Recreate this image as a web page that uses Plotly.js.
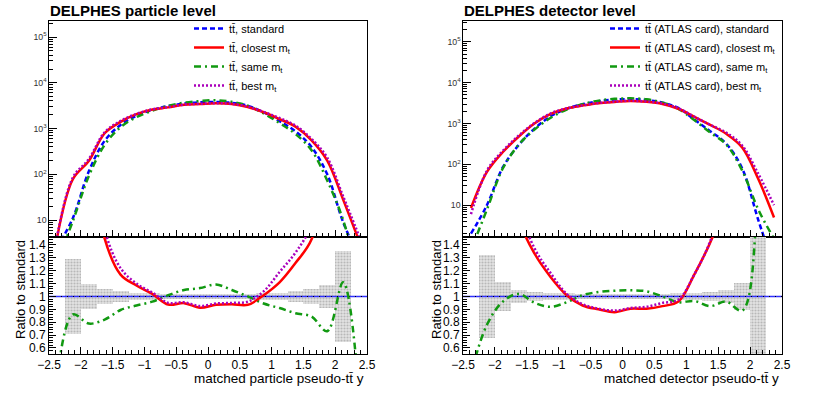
<!DOCTYPE html>
<html>
<head>
<meta charset="utf-8">
<script src="https://cdn.plot.ly/plotly-3.0.1.min.js"></script>
<style>
  html, body { margin: 0; padding: 0; background: #fff; }
  #plot { width: 830px; height: 397px; }
</style>
</head>
<body>
<div id="plot"></div>
<script>
// bin centres of the pseudo-ttbar rapidity histograms (bin width 0.25)
let binCentres = [-2.375, -2.125, -1.875, -1.625, -1.375, -1.125, -0.875, -0.625, -0.375, -0.125,
                  0.125, 0.375, 0.625, 0.875, 1.125, 1.375, 1.625, 1.875, 2.125, 2.375];
// bins that carry a stat. band in the ratio pad
let bandCentres = binCentres.slice(1, 19);
let axisEnds = [-2.5, 2.5];
let ratioOne = [1, 1];

// particle level, events per bin
let partStd     = [2.5, 11, 115, 540, 1200, 1900, 2550, 3100, 3500, 3750, 3800, 3650, 3150, 2250, 1450, 870, 400, 100, 9, 1.5];
let partClosest = [4, 78, 195, 790, 1400, 2060, 2600, 2900, 3320, 3420, 3550, 3430, 2950, 2270, 1610, 1100, 560, 200, 28, 3.5];
let partSame    = [1.2, 9.5, 91, 440, 1075, 1770, 2450, 3130, 3670, 3990, 4150, 3830, 3150, 2130, 1320, 760, 340, 73, 10, 0.5];
let partBest    = [4.2, 85, 215, 830, 1470, 2090, 2630, 2950, 3340, 3470, 3590, 3470, 3020, 2320, 1700, 1160, 600, 230, 33, 4.5];

// particle level ratios to standard
let ratioPartClosest = [8, 5, 2.2, 1.45, 1.17, 1.085, 1.02, 0.937, 0.948, 0.912, 0.935, 0.94, 0.935, 1.01, 1.11, 1.26, 1.44, 2.0, 3.1, 2.3];
let ratioPartSame    = [0.35, 0.86, 0.79, 0.82, 0.895, 0.93, 0.96, 1.01, 1.05, 1.065, 1.093, 1.05, 1.0, 0.945, 0.91, 0.87, 0.845, 0.73, 1.11, 0.25];
let ratioPartBest    = [8, 5, 2.4, 1.52, 1.22, 1.1, 1.03, 0.95, 0.955, 0.925, 0.945, 0.95, 0.96, 1.04, 1.19, 1.34, 1.56, 2.3, 3.7, 3];
let bandPart = [0.29, 0.097, 0.055, 0.04, 0.03, 0.025, 0.02, 0.02, 0.018, 0.018, 0.02, 0.02, 0.025, 0.03, 0.04, 0.055, 0.092, 0.355];

// detector level (ATLAS card)
let detStd     = [2, 10, 85, 300, 760, 1500, 2300, 2950, 3500, 3850, 3950, 3750, 3250, 2400, 1250, 650, 320, 80, 4.5, 0.3];
let detClosest = [8.5, 65, 200, 480, 1010, 1720, 2330, 2750, 3150, 3380, 3570, 3390, 3000, 2300, 1460, 920, 560, 260, 45, 5];
let detSame    = [0.8, 7.8, 80, 305, 720, 1380, 2200, 2980, 3620, 4020, 4130, 3900, 3250, 2290, 1210, 600, 307, 71, 8, 1.5];
let detBest    = [6, 70, 215, 510, 1040, 1770, 2350, 2780, 3170, 3420, 3600, 3450, 3090, 2360, 1470, 930, 600, 290, 60, 10];

let ratioDetClosest = [4, 6, 2.4, 1.6, 1.33, 1.15, 1.01, 0.93, 0.9, 0.878, 0.905, 0.905, 0.925, 0.96, 1.17, 1.42, 1.75, 3.2, 10, 16];
let ratioDetSame    = [0.4, 0.78, 0.96, 1.02, 0.95, 0.92, 0.955, 1.01, 1.035, 1.045, 1.048, 1.04, 1.0, 0.955, 0.965, 0.925, 0.96, 0.89, 1.8, 5];
let ratioDetBest    = [3, 7, 2.5, 1.7, 1.37, 1.18, 1.02, 0.94, 0.905, 0.89, 0.91, 0.92, 0.95, 0.975, 1.17, 1.43, 1.85, 3.6, 13, 33];
let bandDet = [0.32, 0.11, 0.05, 0.035, 0.03, 0.025, 0.02, 0.02, 0.02, 0.02, 0.02, 0.02, 0.025, 0.03, 0.035, 0.05, 0.105, 0.6];

let tt = "tt\u0304";
let partNames = [tt + ", standard", tt + ", closest m<sub>t</sub>", tt + ", same m<sub>t</sub>", tt + ", best m<sub>t</sub>"];
let detNames = [tt + " (ATLAS card), standard", tt + " (ATLAS card), closest m<sub>t</sub>",
                tt + " (ATLAS card), same m<sub>t</sub>", tt + " (ATLAS card), best m<sub>t</sub>"];

// line styles for the four samples
let styles = [
    {color: "#0000ff", width: 2.5, dash: "5px,3px"},
    {color: "#ff0000", width: 2.5, dash: "solid"},
    {color: "#119911", width: 2.5, dash: "7px,4px,2px,4px"},
    {color: "#aa00bb", width: 2.5, dash: "2px,2px"}
];

function curve(x, y, name, style, xa, ya, legend, rank) {
    return {
        x: x, y: y, name: name, type: "scatter", mode: "lines",
        xaxis: xa, yaxis: ya,
        line: {color: style.color, width: style.width, dash: style.dash, shape: "spline", smoothing: 1},
        showlegend: legend !== null, legend: legend || "legend", legendrank: rank || 1000,
        hoverinfo: "skip"
    };
}

function band(half, xa, ya) {
    return {
        x: bandCentres, y: half.map(h => 2 * h), base: half.map(h => 1 - h),
        type: "bar", width: 0.25, xaxis: xa, yaxis: ya, showlegend: false,
        marker: {color: "#dedede", line: {width: 0},
                 pattern: {shape: ".", fgcolor: "#b8b8b8", bgcolor: "#e4e4e4", size: 3, solidity: 0.4}},
        hoverinfo: "skip"
    };
}

let data = [];
// particle level, top pad (draw order: standard, same, closest, best)
let partTop = [partStd, partClosest, partSame, partBest];
[0, 2, 1, 3].forEach(i => data.push(curve(binCentres, partTop[i], partNames[i], styles[i], "x", "y", "legend", i + 1)));
// particle level, ratio pad
data.push(band(bandPart, "x2", "y2"));
data.push({x: axisEnds, y: ratioOne, type: "scatter", mode: "lines", xaxis: "x2", yaxis: "y2",
           line: {color: "#3030ff", width: 1.5}, showlegend: false, hoverinfo: "skip"});
data.push({x: axisEnds, y: ratioOne, type: "scatter", mode: "lines", xaxis: "x2", yaxis: "y2",
           line: {color: "#000", width: 1, dash: "1px,5px"}, showlegend: false, hoverinfo: "skip"});
data.push(curve(binCentres, ratioPartSame, "", styles[2], "x2", "y2", null));
data.push(curve(binCentres, ratioPartClosest, "", styles[1], "x2", "y2", null));
data.push(curve(binCentres, ratioPartBest, "", styles[3], "x2", "y2", null));

// detector level, top pad
let detTop = [detStd, detClosest, detSame, detBest];
[0, 2, 1, 3].forEach(i => data.push(curve(binCentres, detTop[i], detNames[i], styles[i], "x3", "y3", "legend2", i + 1)));
// detector level, ratio pad
data.push(band(bandDet, "x4", "y4"));
data.push({x: axisEnds, y: ratioOne, type: "scatter", mode: "lines", xaxis: "x4", yaxis: "y4",
           line: {color: "#3030ff", width: 1.5}, showlegend: false, hoverinfo: "skip"});
data.push({x: axisEnds, y: ratioOne, type: "scatter", mode: "lines", xaxis: "x4", yaxis: "y4",
           line: {color: "#000", width: 1, dash: "1px,5px"}, showlegend: false, hoverinfo: "skip"});
data.push(curve(binCentres, ratioDetSame, "", styles[2], "x4", "y4", null));
data.push(curve(binCentres, ratioDetClosest, "", styles[1], "x4", "y4", null));
data.push(curve(binCentres, ratioDetBest, "", styles[3], "x4", "y4", null));

// axis helpers
let W = 830, H = 397;
let leftDom = [49 / W, 367 / W];
let rightDom = [463 / W, 782 / W];
let topDom = [1 - 237 / H, 1 - 21 / H];
let botDom = [1 - 354 / H, 1 - 237 / H];
let tickFont = {family: "Liberation Sans, Arial, sans-serif", size: 12, color: "#000"};

function xAxis(dom, anchor, labels) {
    return {
        domain: dom, anchor: anchor, range: [-2.5, 2.5], dtick: 0.5, tick0: 0,
        ticks: "inside", ticklen: 7, tickcolor: "#000", showticklabels: labels,
        showline: true, mirror: true, linecolor: "#000", linewidth: 1,
        showgrid: false, zeroline: false, tickfont: tickFont,
        minor: {dtick: 0.1, ticks: "inside", ticklen: 4, tickcolor: "#000", showgrid: false}
    };
}
function logAxis(dom, anchor, range) {
    return {
        domain: dom, anchor: anchor, type: "log", range: range, dtick: 1,
        exponentformat: "power", ticks: "inside", ticklen: 8, tickcolor: "#000",
        showline: true, mirror: true, linecolor: "#000", linewidth: 1,
        showgrid: false, zeroline: false,
        tickfont: {family: "Liberation Sans, Arial, sans-serif", size: 7, color: "#333"},
        minor: {dtick: "D1", ticks: "inside", ticklen: 4, tickcolor: "#000", showgrid: false}
    };
}
function ratioAxis(dom, anchor) {
    return {
        domain: dom, anchor: anchor, range: [0.553, 1.462], dtick: 0.1, tick0: 0,
        ticks: "inside", ticklen: 7, tickcolor: "#000",
        showline: true, mirror: true, linecolor: "#000", linewidth: 1,
        showgrid: false, zeroline: false, tickfont: tickFont,
        minor: {dtick: 0.02, ticks: "inside", ticklen: 4, tickcolor: "#000", showgrid: false}
    };
}

let legendBase = {
    xanchor: "left", yanchor: "top", bgcolor: "rgba(0,0,0,0)", borderwidth: 0,
    font: {family: "Liberation Sans, Arial, sans-serif", size: 11, color: "#000"},
    itemwidth: 30, tracegroupgap: 0, traceorder: "normal"
};

let textFont = {family: "Liberation Sans, Arial, sans-serif", color: "#000"};

let layout = {
    width: W, height: H,
    margin: {l: 0, r: 0, t: 0, b: 0},
    paper_bgcolor: "#fff", plot_bgcolor: "#fff",
    bargap: 0,
    xaxis: xAxis(leftDom, "y", false),
    yaxis: logAxis(topDom, "x", [0.63, 5.35]),
    xaxis2: xAxis(leftDom, "y2", true),
    yaxis2: ratioAxis(botDom, "x2"),
    xaxis3: xAxis(rightDom, "y3", false),
    yaxis3: logAxis(topDom, "x3", [0.22, 5.51]),
    xaxis4: xAxis(rightDom, "y4", true),
    yaxis4: ratioAxis(botDom, "x4"),
    legend: Object.assign({x: 189 / W, y: 1 - 14 / H}, legendBase),
    legend2: Object.assign({x: 605 / W, y: 1 - 14 / H}, legendBase),
    annotations: [
        {text: "<b>DELPHES particle level</b>", xref: "paper", yref: "paper", x: 48 / W, y: 1 - 10 / H,
         xanchor: "left", yanchor: "middle", showarrow: false, font: Object.assign({size: 15}, textFont)},
        {text: "<b>DELPHES detector level</b>", xref: "paper", yref: "paper", x: 462 / W, y: 1 - 10 / H,
         xanchor: "left", yanchor: "middle", showarrow: false, font: Object.assign({size: 15}, textFont)},
        {text: "matched particle pseudo-" + tt + " y", xref: "paper", yref: "paper", x: 366 / W, y: 1 - 378 / H,
         xanchor: "right", yanchor: "middle", showarrow: false, font: Object.assign({size: 13.5}, textFont)},
        {text: "matched detector pseudo-" + tt + " y", xref: "paper", yref: "paper", x: 781 / W, y: 1 - 378 / H,
         xanchor: "right", yanchor: "middle", showarrow: false, font: Object.assign({size: 13.5}, textFont)},
        {text: "Ratio to standard", xref: "paper", yref: "paper", x: 20 / W, y: 1 - 290 / H, textangle: -90,
         xanchor: "center", yanchor: "middle", showarrow: false, font: Object.assign({size: 13}, textFont)},
        {text: "Ratio to standard", xref: "paper", yref: "paper", x: 436 / W, y: 1 - 290 / H, textangle: -90,
         xanchor: "center", yanchor: "middle", showarrow: false, font: Object.assign({size: 13}, textFont)}
    ]
};

Plotly.newPlot("plot", data, layout, {staticPlot: true, displayModeBar: false});
</script>
</body>
</html>
